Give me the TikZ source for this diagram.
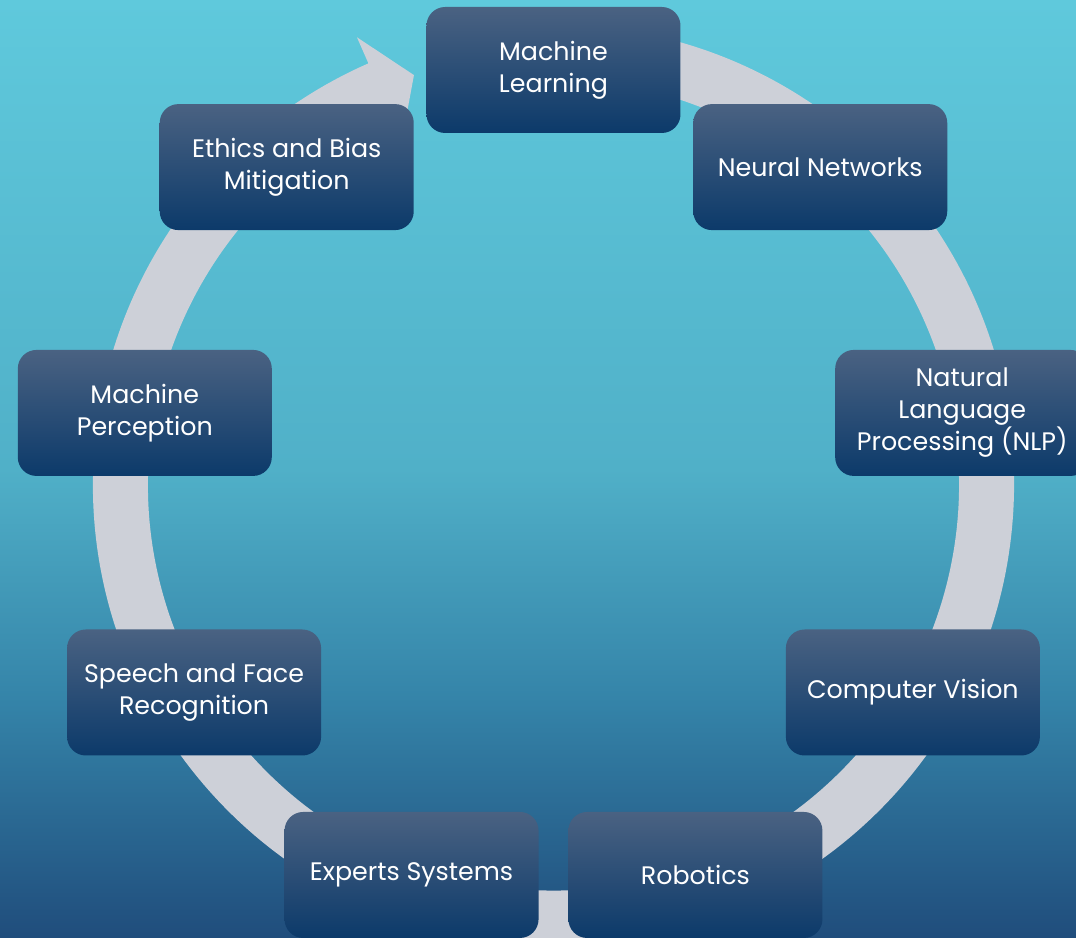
\documentclass[tikz,border=0pt]{standalone}
\usepackage{fontspec}
\setmainfont{Poppins}
\definecolor{bgtop}{HTML}{5FC9DC}
\definecolor{bgmid}{HTML}{50B0C8}
\definecolor{bglow}{HTML}{3483A8}
\definecolor{bgbot}{HTML}{204D7C}
\definecolor{boxtop}{HTML}{4A6282}
\definecolor{boxbot}{HTML}{0C3A6A}
\definecolor{ringgray}{HTML}{CDD0D8}
\pgfdeclareverticalshading{bgfade}{100bp}{color(0bp)=(bgbot); color(25bp)=(bgbot);
  color(37.5bp)=(bglow); color(50bp)=(bgmid); color(75bp)=(bgtop); color(100bp)=(bgtop)}
\begin{document}
\begin{tikzpicture}[x=0.75pt,y=0.75pt,
  topic/.style={shape=rectangle,rounded corners=14pt,top color=boxtop,bottom color=boxbot,
    minimum width=190.5pt,minimum height=94.5pt,text=white,align=center,
    font=\fontsize{19}{24}\selectfont}]
\shade[shading=bgfade] (-553.5,-453) rectangle (522.5,485);
\useasboundingbox (-553.5,-453) rectangle (522.5,485);
% cycle arrow behind the boxes
\fill[ringgray] (80:460.5) arc[start angle=80,end angle=-246.3,radius=345.375pt]
  -- (-246.3:489) -- (-251.2:433) -- (-246.3:377) -- (-246.3:405.5)
  arc[start angle=-246.3,end angle=80,radius=304.125pt] -- cycle;
\node (ml) at (90:415) [topic]{Machine\\Learning};
\node (nn) at (50:415) [topic]{Neural Networks};
\node (nlp) at (10:415) [topic]{Natural\\Language\\Processing (NLP)};
\node (cv) at (-30:415) [topic]{Computer Vision};
\node (rob) at (-70:415) [topic]{Robotics};
\node (es) at (-110:415) [topic]{Experts Systems};
\node (sfr) at (-150:415) [topic]{Speech and Face\\Recognition};
\node (mp) at (170:415) [topic]{Machine\\Perception};
\node (eb) at (130:415) [topic]{Ethics and Bias\\Mitigation};
\end{tikzpicture}
\end{document}
